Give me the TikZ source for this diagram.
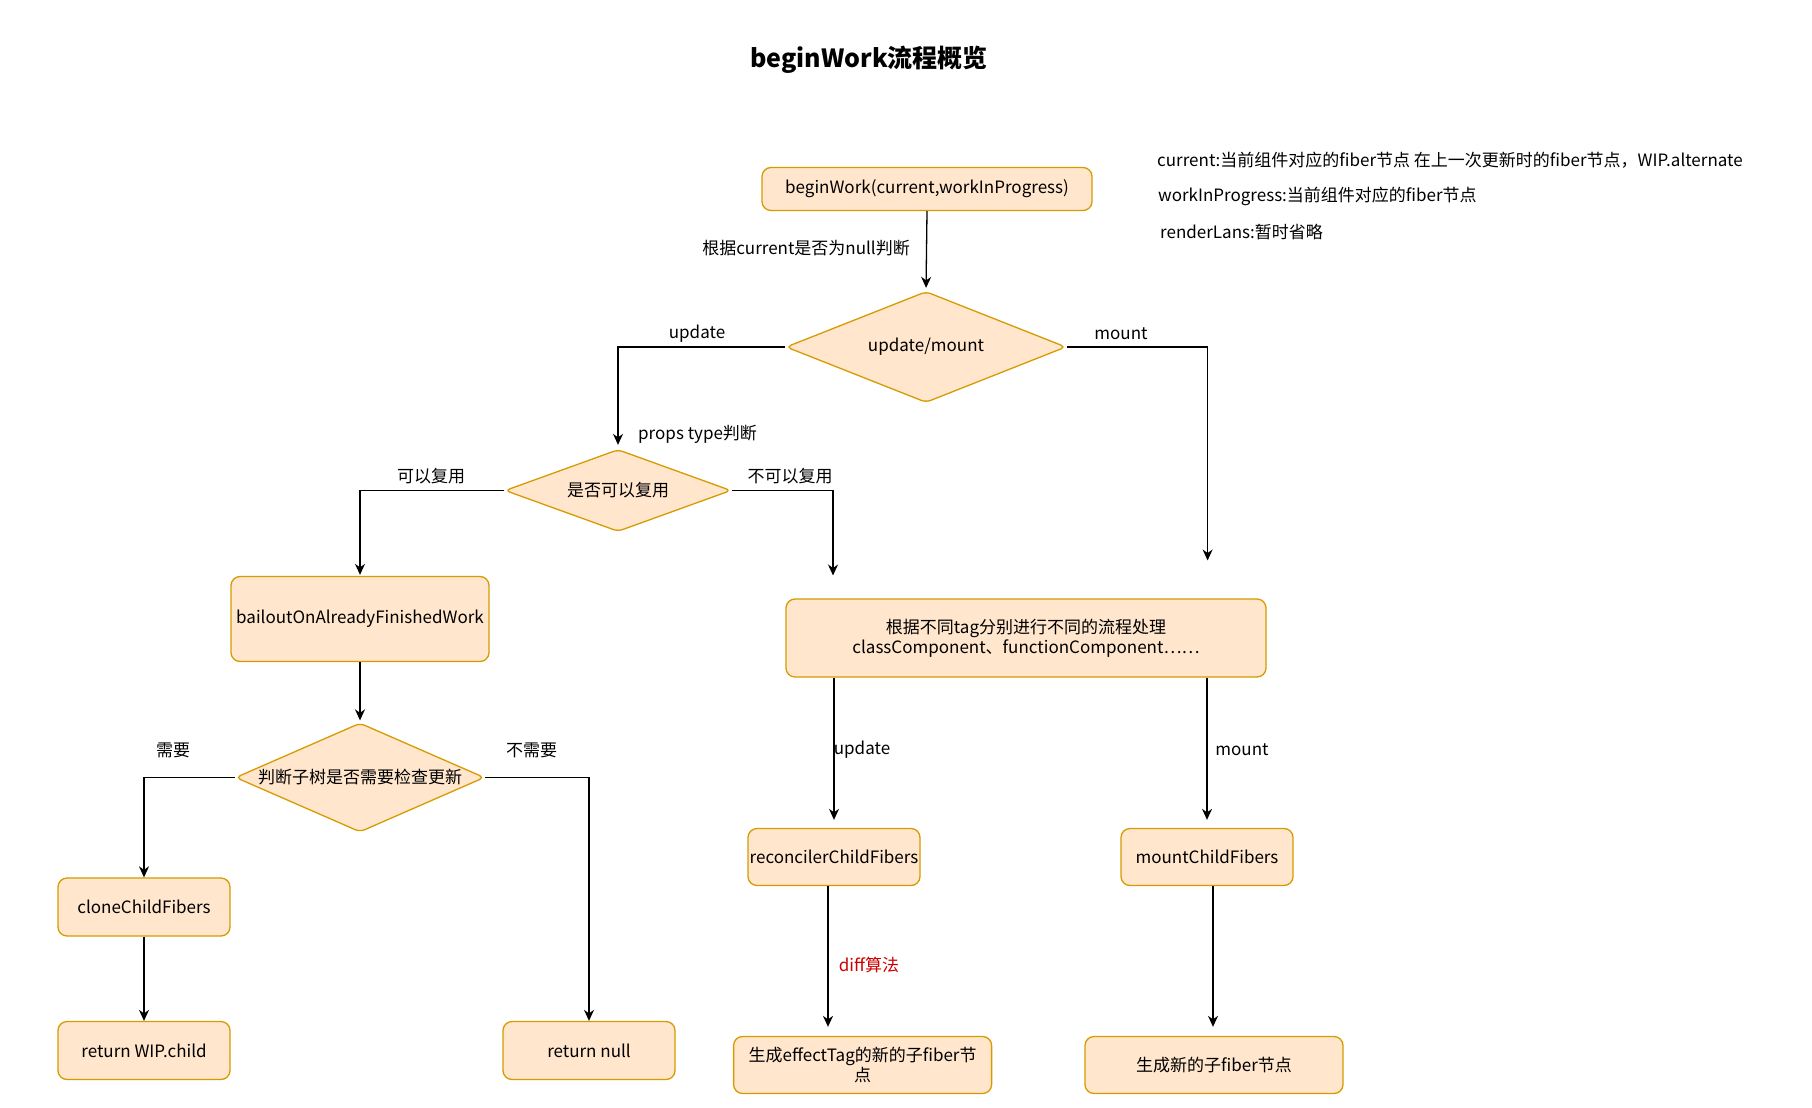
\documentclass[tikz,border=0pt]{standalone}
\usepackage{fontspec}
\setmainfont{Noto Sans CJK SC}
\usetikzlibrary{shapes.geometric,arrows.meta}
\definecolor{boxfill}{HTML}{FFE6CC}
\definecolor{boxline}{HTML}{D79B00}
\definecolor{diffred}{HTML}{CC0000}
\newcommand\myfs{\fontsize{17}{20}\selectfont}
\begin{document}
\begin{tikzpicture}[x=1pt,y=-1pt,
 box/.style={draw=boxline, fill=boxfill, line width=1.3pt, rounded corners=9pt, align=center, font=\myfs, inner sep=0pt},
 dia/.style={shape=diamond, draw=boxline, fill=boxfill, line width=1.3pt, rounded corners=5pt, inner sep=0pt, font=\myfs},
 lbl/.style={font=\myfs, inner sep=0pt},
 arr/.style={draw=black, line width=1.3pt, -{Stealth[length=11pt,width=10pt,inset=3.5pt]}},
]
\useasboundingbox[fill=white] (0,0) rectangle (1812,1108);

% title
\node[font=\fontsize{25}{30}\selectfont\bfseries] (title) at (869,60) {beginWork流程概览};

% legend
\node[lbl, anchor=west] (n1) at (1157,160.6) {current:当前组件对应的fiber节点 在上一次更新时的fiber节点，WIP.alternate};
\node[lbl, anchor=west] (n2) at (1158,196.5) {workInProgress:当前组件对应的fiber节点};
\node[lbl, anchor=west] (n3) at (1160,232.3) {renderLans:暂时省略};

% nodes
\node[box, minimum width=330pt, minimum height=43pt] (bw) at (927,189) {beginWork(current,workInProgress)};
\node[dia, aspect=2.5, minimum width=280pt, minimum height=111pt] (d1) at (926,347) {update/mount};
\node[dia, aspect=2.7, minimum width=226pt, minimum height=82pt] (d2) at (618,490.5) {是否可以复用};
\node[box, minimum width=258pt, minimum height=85pt] (bail) at (360,619) {bailoutOnAlreadyFinishedWork};
\node[dia, aspect=2.2, minimum width=249pt, minimum height=109pt] (d3) at (360,777.5) {判断子树是否需要检查更新};
\node[box, minimum width=172pt, minimum height=58pt] (clone) at (144,907) {cloneChildFibers};
\node[box, minimum width=172pt, minimum height=58pt] (rwip) at (144,1050.5) {return WIP.child};
\node[box, minimum width=172pt, minimum height=58pt] (rnull) at (589,1050.5) {return null};
\node[box, minimum width=480pt, minimum height=78pt] (big) at (1026,638) {根据不同tag分别进行不同的流程处理\\classComponent、functionComponent……};
\node[box, minimum width=172pt, minimum height=57pt] (rec) at (834,857) {reconcilerChildFibers};
\node[box, minimum width=172pt, minimum height=57pt] (mcf) at (1207,857) {mountChildFibers};
\node[box, minimum width=258pt, minimum height=57pt] (ge) at (862.6,1065) {生成effectTag的新的子fiber节\\点};
\node[box, minimum width=258pt, minimum height=57pt] (gn) at (1214,1065) {生成新的子fiber节点};

% connectors
\draw[arr, shorten >=3pt] (bw.south) -- (d1.north);
\node[lbl, anchor=east] (l1) at (910,248) {根据current是否为null判断};

\draw[arr, shorten >=4pt] (d1.west) -| (d2.north);
\node[lbl] (l2) at (697,334) {update};
\coordinate (m1) at (1207.6,560.5);
\draw[arr] (d1.east) -| (m1);
\node[lbl] (l3) at (1121,334) {mount};

\node[lbl, anchor=west] (l4) at (638,434.5) {props type判断};
\draw[arr, shorten >=1pt] (d2.west) -| (bail.north);
\node[lbl] (l5) at (431,476) {可以复用};
\coordinate (m2) at (833,575.5);
\draw[arr] (d2.east) -| (m2);
\node[lbl] (l6) at (790,476) {不可以复用};

\draw[arr, shorten >=2pt] (bail.south) -- (d3.north);
\draw[arr] (d3.west) -| (clone.north);
\node[lbl] (l7) at (173,750) {需要};
\draw[arr] (d3.east) -| (rnull.north);
\node[lbl] (l8) at (531.6,750) {不需要};
\draw[arr] (clone.south) -- (rwip.north);

\draw[arr, shorten >=8pt] (big.south -| rec.north) -- (rec.north);
\node[lbl] (l9) at (862,750) {update};
\draw[arr, shorten >=8pt] (big.south -| mcf.north) -- (mcf.north);
\node[lbl] (l10) at (1242,750) {mount};

\draw[arr, shorten >=9pt] ([xshift=-6pt]rec.south) -- ([xshift=-6pt]rec.south |- ge.north);
\node[lbl, text=diffred] (l11) at (869,965) {diff算法};
\draw[arr, shorten >=9pt] ([xshift=6pt]mcf.south) -- ([xshift=6pt]mcf.south |- gn.north);
\end{tikzpicture}
\end{document}
